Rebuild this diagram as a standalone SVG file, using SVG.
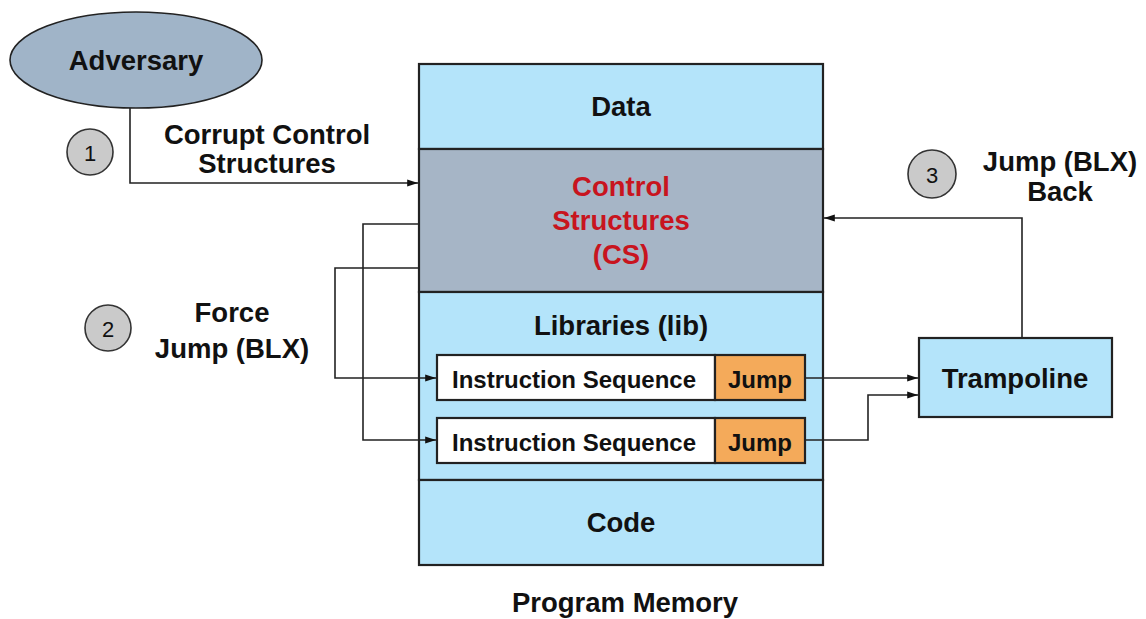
<svg xmlns="http://www.w3.org/2000/svg" width="1146" height="619" viewBox="0 0 1146 619">
<defs>
<style>
text{font-family:"Liberation Sans",Arial,sans-serif;font-weight:bold;fill:#111;text-anchor:middle;dominant-baseline:central}
.t{font-size:27.5px}
.s{font-size:24px}
.n{font-size:22px;font-weight:normal}
.red{fill:#c8141e}
.box{stroke:#222;stroke-width:2.2}
.blue{fill:#b4e4fa}
.line{fill:none;stroke:#222;stroke-width:1.6}
.num{fill:#cacaca;stroke:#333;stroke-width:1.6}
</style>
<marker id="ah" viewBox="0 0 12 10" refX="12" refY="5" markerWidth="13" markerHeight="9" markerUnits="userSpaceOnUse" orient="auto">
<path d="M0,1 L12,5 L0,9 z" fill="#111"/>
</marker>
</defs>
<rect width="1146" height="619" fill="#fff"/>

<g id="adversary">
<ellipse cx="136" cy="60" rx="126" ry="48" fill="#a0b4c8" stroke="#222" stroke-width="1.6"/>
<text class="t" x="136" y="60">Adversary</text>
</g>

<g id="program-memory">
<rect class="box blue" x="419" y="64" width="404" height="85"/>
<text class="t" x="621" y="106">Data</text>
<rect class="box" x="419" y="149" width="404" height="143" fill="#a6b5c6"/>
<text class="t red" x="621" y="186">Control</text>
<text class="t red" x="621" y="220">Structures</text>
<text class="t red" x="621" y="254">(CS)</text>
<rect class="box blue" x="419" y="292" width="404" height="188"/>
<text class="t" x="621" y="325">Libraries (lib)</text>
<rect class="box blue" x="419" y="480" width="404" height="85"/>
<text class="t" x="621" y="522">Code</text>
<text class="t" x="625" y="602">Program Memory</text>
</g>

<g id="seq1">
<rect class="box" x="437" y="355" width="278" height="45" fill="#fff"/>
<rect class="box" x="715" y="355" width="90" height="45" fill="#f4aa5a"/>
<text class="s" x="574" y="379">Instruction Sequence</text>
<text class="s" x="760" y="379">Jump</text>
</g>
<g id="seq2">
<rect class="box" x="437" y="418" width="278" height="45" fill="#fff"/>
<rect class="box" x="715" y="418" width="90" height="45" fill="#f4aa5a"/>
<text class="s" x="574" y="442">Instruction Sequence</text>
<text class="s" x="760" y="442">Jump</text>
</g>

<g id="trampoline">
<rect class="box blue" x="919" y="338" width="193" height="79"/>
<text class="t" x="1015" y="378">Trampoline</text>
</g>

<g id="step1">
<circle class="num" cx="90" cy="152" r="23"/>
<text class="n" x="90" y="153">1</text>
<text class="t" x="267" y="134">Corrupt Control</text>
<text class="t" x="267" y="163">Structures</text>
</g>
<g id="step2">
<circle class="num" cx="108" cy="328" r="23"/>
<text class="n" x="108" y="329">2</text>
<text class="t" x="232" y="312">Force</text>
<text class="t" x="232" y="348">Jump (BLX)</text>
</g>
<g id="step3">
<circle class="num" cx="932" cy="174" r="24"/>
<text class="n" x="932" y="175">3</text>
<text class="t" x="1060" y="161">Jump (BLX)</text>
<text class="t" x="1060" y="191">Back</text>
</g>

<g id="connectors">
<polyline class="line" points="130,108 130,183 418,183" marker-end="url(#ah)"/>
<polyline class="line" points="419,224 363,224 363,440 436,440" marker-end="url(#ah)"/>
<polyline class="line" points="419,268 335,268 335,378 436,378" marker-end="url(#ah)"/>
<polyline class="line" points="805,378 918,378" marker-end="url(#ah)"/>
<polyline class="line" points="805,440 868,440 868,395 918,395" marker-end="url(#ah)"/>
<polyline class="line" points="1022,338 1022,218 824,218" marker-end="url(#ah)"/>
</g>
</svg>
